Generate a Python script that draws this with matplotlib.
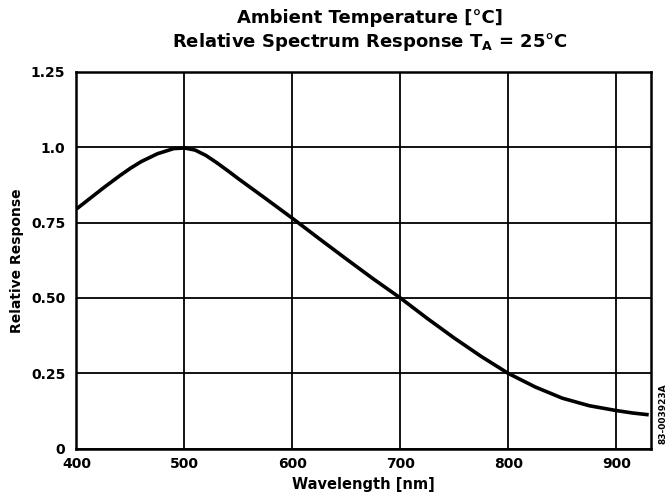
import matplotlib
matplotlib.use("Agg")
import matplotlib.pyplot as plt

# values
wavelength = [400, 425, 440, 450, 460, 475, 490, 500, 510, 520, 530, 540, 550,
              575, 600, 625, 650, 675, 700, 725, 750, 775, 800, 825, 850, 875,
              900, 915, 930]
response = [0.795, 0.865, 0.905, 0.93, 0.952, 0.978, 0.995, 0.997, 0.99, 0.972,
            0.948, 0.922, 0.895, 0.83, 0.764, 0.696, 0.629, 0.563, 0.50, 0.432,
            0.367, 0.306, 0.25, 0.205, 0.168, 0.143, 0.127, 0.119, 0.113]
xticks = [400, 500, 600, 700, 800, 900]
yticks = [0, 0.25, 0.50, 0.75, 1.0, 1.25]
ylabels = ["0", "0.25", "0.50", "0.75", "1.0", "1.25"]

plt.rcParams["font.family"] = ["DejaVu Sans"]
plt.rcParams["font.weight"] = "bold"
plt.rcParams["mathtext.default"] = "bf"

fig = plt.figure(figsize=(6.71, 5.01), dpi=100)
ax = fig.add_axes([0.114, 0.104, 0.856, 0.753])

ax.plot(wavelength, response, color="black", lw=2.6, zorder=5,
        solid_capstyle="butt", solid_joinstyle="round")

ax.set_xlim(400, 932)
ax.set_ylim(0, 1.25)
ax.set_xticks(xticks)
ax.set_yticks(yticks)
ax.set_yticklabels(ylabels)
ax.tick_params(length=0, labelsize=10)
ax.tick_params(axis="y", pad=8)
ax.tick_params(axis="x", pad=6)
for lab in ax.get_xticklabels() + ax.get_yticklabels():
    lab.set_fontweight("bold")
ax.grid(True, color="black", lw=1.3)
for s in ax.spines.values():
    s.set_linewidth(1.8)

ax.set_xlabel("Wavelength [nm]", fontsize=10.5, fontweight="bold", labelpad=4)
ax.set_ylabel("Relative Response", fontsize=10, fontweight="bold", labelpad=5)

fig.text(0.551, 0.965, "Ambient Temperature [°C]", ha="center", va="center",
         fontsize=13, fontweight="bold")
fig.text(0.551, 0.917, "Relative Spectrum Response T$_\\mathbf{A}$ = 25°C",
         ha="center", va="center", fontsize=13, fontweight="bold")
fig.text(0.988, 0.175, "83-003923A", rotation=90, ha="center", va="center",
         fontsize=6.5, fontweight="bold")

fig.savefig("out.png", dpi=100)
